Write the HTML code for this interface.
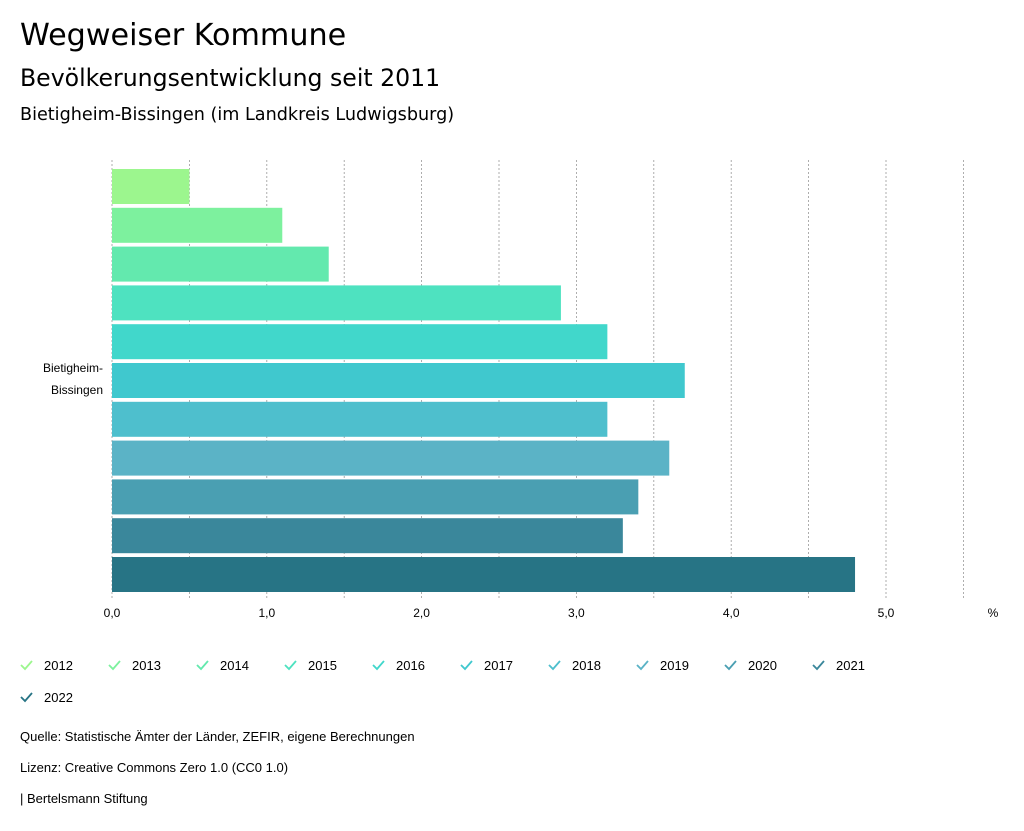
<!DOCTYPE html>
<html><head><meta charset="utf-8"><style>
body{margin:0;width:1024px;height:831px;background:#fff;font-family:"Liberation Sans","DejaVu Sans",sans-serif;color:#000;position:relative;overflow:hidden}
.t{position:absolute;left:20px;white-space:nowrap}
.h{font-family:"DejaVu Sans",sans-serif}
</style></head><body>
<div class="t h" style="top:18px;font-size:30.2px">Wegweiser Kommune</div>
<div class="t h" style="top:64px;font-size:23.6px">Bevölkerungsentwicklung seit 2011</div>
<div class="t h" style="top:105px;font-size:17.6px">Bietigheim-Bissingen (im Landkreis Ludwigsburg)</div>
<svg id="chart" width="1024" height="831" style="position:absolute;left:0;top:0"></svg>
<div class="t" style="top:729px;font-size:13px">Quelle: Statistische Ämter der Länder, ZEFIR, eigene Berechnungen</div>
<div class="t" style="top:760px;font-size:13px">Lizenz: Creative Commons Zero 1.0 (CC0 1.0)</div>
<div class="t" style="top:791px;font-size:13px">| Bertelsmann Stiftung</div>
<script>
const years=["2012","2013","2014","2015","2016","2017","2018","2019","2020","2021","2022"];
const values=[0.5,1.1,1.4,2.9,3.2,3.7,3.2,3.6,3.4,3.3,4.8];
const colors=["#9cf68e","#7df19e","#63e9ae","#4ee2c0","#41d7cb","#40c8ce","#4ebfcd","#5bb3c6","#4a9fb2","#3a879b","#277485"];
const ticks=[0,1,2,3,4,5];
const tickLabels=["0,0","1,0","2,0","3,0","4,0","5,0"];
const NS="http://www.w3.org/2000/svg";
const svg=document.getElementById('chart');
const x0=112,unit=154.8,top0=169,pitch=38.8,bh=35;
const X=v=>x0+v*unit;
const Y=i=>top0+i*pitch;
function mk(t,a){const e=document.createElementNS(NS,t);for(const k in a)e.setAttribute(k,a[k]);svg.appendChild(e);return e;}
for(let g=0;g<=11;g++){
  const l=mk('line',{x1:X(g*0.5),x2:X(g*0.5),y1:160,y2:598,stroke:'#999','stroke-width':0.8,'stroke-dasharray':'2,2'});
  
  
}
ticks.forEach((t,i)=>{
  const e=mk('text',{x:X(t),y:617,'text-anchor':'middle','font-size':12,'font-family':'Liberation Sans, sans-serif'});
  e.textContent=tickLabels[i];
  
  
});
const pct=mk('text',{x:993,y:617,'text-anchor':'middle','font-size':12});
pct.textContent='%';


values.forEach((v,i)=>{
  const r=mk('rect',{x:x0,y:Y(i),width:X(v)-x0,height:bh,fill:colors[i]});
  
  
});
[["Bietigheim-",372],["Bissingen",394]].forEach(([s,y])=>{
  const e=mk('text',{x:103,y:y,'text-anchor':'end','font-size':12});
  e.textContent=s;
  
  
});
years.forEach((yr,i)=>{
  const col=i%10,row=Math.floor(i/10);
  const lx=20+col*88,ly=666+row*32;
  const g=mk('g',{});
  
  
  const p=document.createElementNS(NS,'path');
  p.setAttribute('d',`M${lx+1} ${ly-1} L${lx+5} ${ly+3} L${lx+12} ${ly-5}`);
  p.setAttribute('stroke',colors[i]);p.setAttribute('stroke-width','1.8');p.setAttribute('fill','none');
  g.appendChild(p);
  const t=document.createElementNS(NS,'text');
  t.setAttribute('x',lx+24);t.setAttribute('y',ly+4);t.setAttribute('font-size','13');
  t.textContent=yr;g.appendChild(t);
});
</script>
</body></html>
